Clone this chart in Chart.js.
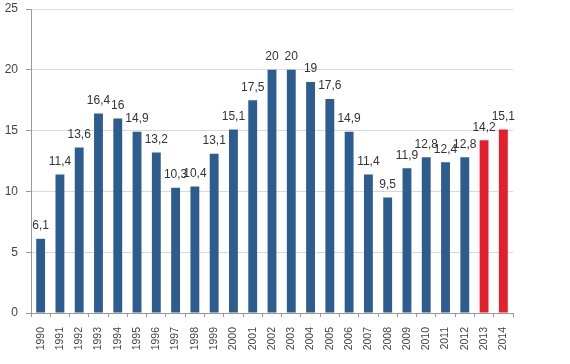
<!DOCTYPE html>
<html>
<head>
<meta charset="utf-8">
<script src="https://cdn.jsdelivr.net/npm/chart.js@4/dist/chart.umd.min.js"></script>
<style>
  html, body { margin: 0; padding: 0; background: #fff; }
  #wrap { width: 570px; height: 364px; }
</style>
</head>
<body>
<div id="wrap"><canvas id="chart" width="570" height="364"></canvas></div>
<script>
// Data
const years = ['1990','1991','1992','1993','1994','1995','1996','1997','1998','1999','2000','2001','2002',
  '2003','2004','2005','2006','2007','2008','2009','2010','2011','2012','2013','2014'];
const values = [6.1, 11.4, 13.6, 16.4, 16, 14.9, 13.2, 10.3, 10.4, 13.1, 15.1, 17.5, 20,
  20, 19, 17.6, 14.9, 11.4, 9.5, 11.9, 12.8, 12.4, 12.8, 14.2, 15.1];
const yTicks = [0, 5, 10, 15, 20, 25];

const blue = '#2d5d8f';
const red = '#e3202b';
const barColors = years.map(y => (y === '2013' || y === '2014') ? red : blue);

// Draw the value above each bar, with comma decimals
const valueLabels = {
  id: 'valueLabels',
  afterDatasetsDraw(chart) {
    const ctx = chart.ctx;
    const meta = chart.getDatasetMeta(0);
    ctx.save();
    ctx.font = '12px Arial, "Liberation Sans", sans-serif';
    ctx.fillStyle = '#333';
    ctx.textAlign = 'center';
    ctx.textBaseline = 'bottom';
    meta.data.forEach((bar, i) => {
      ctx.fillText(String(values[i]).replace('.', ','), bar.x, bar.y - 7);
    });
    ctx.restore();
  }
};

new Chart(document.getElementById('chart').getContext('2d'), {
  type: 'bar',
  data: {
    labels: years,
    datasets: [{
      data: values,
      backgroundColor: barColors,
      barPercentage: 0.46,
      categoryPercentage: 1
    }]
  },
  options: {
    responsive: false,
    animation: false,
    layout: { padding: { top: 9, right: 57, left: 0, bottom: 0 } },
    plugins: {
      legend: { display: false },
      tooltip: { enabled: false }
    },
    scales: {
      x: {
        offset: true,
        afterFit(scale) { scale.height = 51; },
        grid: {
          offset: true,
          drawOnChartArea: false,
          drawTicks: true,
          tickLength: 4,
          color: '#999'
        },
        border: { color: '#999' },
        ticks: {
          minRotation: 90,
          maxRotation: 90,
          autoSkip: false,
          padding: 10,
          color: '#444',
          font: { family: 'Arial, "Liberation Sans", sans-serif', size: 10.5 }
        }
      },
      y: {
        min: 0,
        max: 25,
        afterFit(scale) {
          scale.width = 31;
          scale.paddingTop = 0;
        },
        afterBuildTicks(scale) { scale.ticks = yTicks.map(v => ({ value: v })); },
        grid: {
          color: '#d9d9d9',
          tickLength: 5,
          tickColor: '#999'
        },
        border: { color: '#999' },
        ticks: {
          padding: 8,
          color: '#444',
          font: { family: 'Arial, "Liberation Sans", sans-serif', size: 12 }
        }
      }
    }
  },
  plugins: [valueLabels]
});
</script>
</body>
</html>
